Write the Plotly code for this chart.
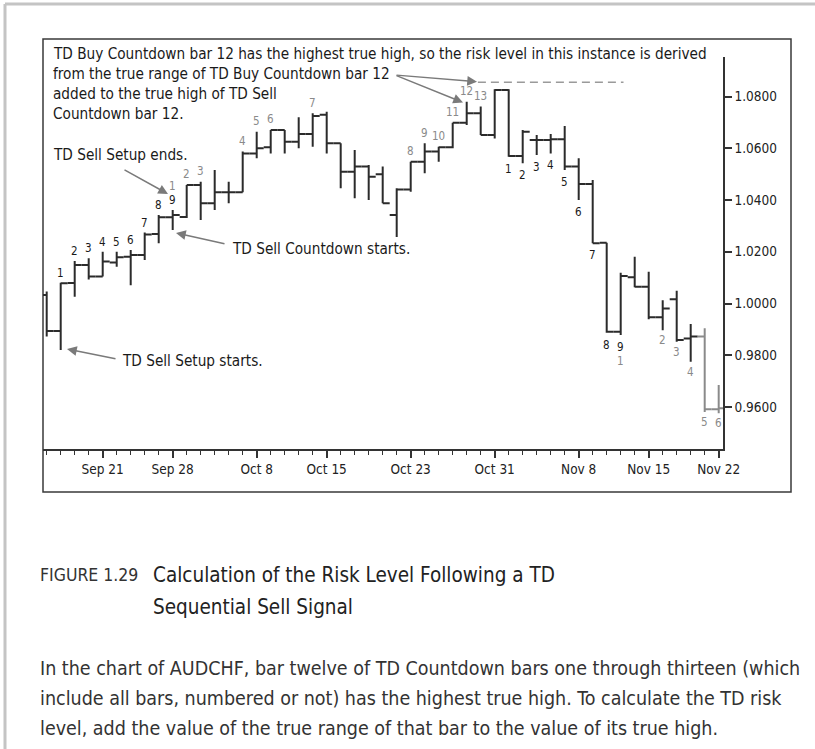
import plotly.graph_objects as go

# ---------------- data ----------------
bar_index = list(range(49))  # trading days from Sep 17 to Nov 22
opens = [1.0033, 0.9894, 1.0079, 1.0149, 1.0104, 1.0158, 1.0181, 1.0187, 1.0269, 1.0333,
         1.0334, 1.0458, 1.0387, 1.0430, 1.0430, 1.0580, 1.0604, 1.0671, 1.0625, 1.0655,
         1.0729, 1.0619, 1.0509, 1.0529, 1.0500, 1.0342, 1.0441, 1.0548, 1.0587, 1.0604,
         1.0699, 1.0735, 1.0651, 1.0825, 1.0570, 1.0632, 1.0632, 1.0635, 1.0529, 1.0462,
         1.0235, 0.9891, 1.0101, 1.0065, 0.9947, 1.0016, 0.9865, 0.9872, 0.9591]
highs = [1.0046, 1.0080, 1.0164, 1.0175, 1.0200, 1.0200, 1.0207, 1.0274, 1.0342, 1.0361,
         1.0458, 1.0471, 1.0516, 1.0471, 1.0587, 1.0664, 1.0671, 1.0671, 1.0720, 1.0735,
         1.0741, 1.0619, 1.0593, 1.0535, 1.0529, 1.0445, 1.0548, 1.0619, 1.0606, 1.0699,
         1.0780, 1.0761, 1.0828, 1.0828, 1.0671, 1.0651, 1.0655, 1.0686, 1.0561, 1.0477,
         1.0235, 1.0119, 1.0181, 1.0123, 1.0013, 1.0049, 0.9921, 0.9904, 0.9685]
lows = [0.9872, 0.9820, 1.0026, 1.0093, 1.0104, 1.0142, 1.0071, 1.0168, 1.0233, 1.0284,
        1.0330, 1.0323, 1.0361, 1.0387, 1.0430, 1.0561, 1.0580, 1.0580, 1.0600, 1.0606,
        1.0580, 1.0445, 1.0407, 1.0400, 1.0387, 1.0257, 1.0432, 1.0503, 1.0548, 1.0600,
        1.0690, 1.0651, 1.0638, 1.0567, 1.0542, 1.0574, 1.0580, 1.0516, 1.0400, 1.0233,
        0.9887, 0.9878, 1.0063, 0.9939, 0.9897, 0.9852, 0.9775, 0.9581, 0.9576]
closes = [0.9894, 1.0078, 1.0149, 1.0104, 1.0162, 1.0179, 1.0187, 1.0267, 1.0333, 1.0342,
          1.0458, 1.0387, 1.0430, 1.0430, 1.0580, 1.0600, 1.0671, 1.0625, 1.0655, 1.0725,
          1.0619, 1.0509, 1.0529, 1.0490, 1.0387, 1.0441, 1.0548, 1.0587, 1.0604, 1.0699,
          1.0735, 1.0651, 1.0825, 1.0570, 1.0664, 1.0632, 1.0635, 1.0529, 1.0462, 1.0233,
          0.9891, 1.0106, 1.0065, 0.9947, 0.9981, 0.9859, 0.9872, 0.9591, 0.9595]
highlight_bars = [47, 48]

tick_bar_index = [4, 9, 15, 20, 26, 32, 38, 43, 48]
tick_labels = ["Sep 21", "Sep 28", "Oct 8", "Oct 15", "Oct 23", "Oct 31", "Nov 8", "Nov 15", "Nov 22"]
price_ticks = [0.96, 0.98, 1.00, 1.02, 1.04, 1.06, 1.08]

sell_setup_bars = [1, 2, 3, 4, 5, 6, 7, 8, 9]
sell_setup_text = ["1", "2", "3", "4", "5", "6", "7", "8", "9"]
sell_cd_bars = [9, 10, 11, 14, 15, 16, 19, 26, 27, 28, 29, 30, 31]
sell_cd_text = ["1", "2", "3", "4", "5", "6", "7", "8", "9", "10", "11", "12", "13"]
buy_setup_bars = [33, 34, 35, 36, 37, 38, 39, 40, 41]
buy_setup_text = ["1", "2", "3", "4", "5", "6", "7", "8", "9"]
buy_cd_bars = [41, 44, 45, 46, 47, 48]
buy_cd_text = ["1", "2", "3", "4", "5", "6"]

risk_level = 1.0855
risk_span = [30.8, 41.2]

note_lines = ["TD Buy Countdown bar 12 has the highest true high, so the risk level in this instance is derived",
              "from the true range of TD Buy Countdown bar 12",
              "added to the true high of TD Sell",
              "Countdown bar 12."]
caption_label = "FIGURE 1.29"
caption_title = ["Calculation of the Risk Level Following a TD", "Sequential Sell Signal"]
caption_body = ["In the chart of AUDCHF, bar twelve of TD Countdown bars one through thirteen (which",
                "include all bars, numbered or not) has the highest true high. To calculate the TD risk",
                "level, add the value of the true range of that bar to the value of its true high."]

# ---------------- layout helpers ----------------
W, H = 815, 749
L, R, T, B = 43, 723, 57, 449
FONT = "DejaVu Sans Condensed, Liberation Sans Narrow, Arial Narrow, sans-serif"
DARK = "#2b2b2b"
GRAY = "#8a8a8a"


def fx(px):
    return (px - L) / (R - L)


def fy(py):
    return (B - py) / (B - T)


main_idx = [i for i in bar_index if i not in highlight_bars]

fig = go.Figure()
for idx, col in ((main_idx, DARK), (highlight_bars, GRAY)):
    fig.add_trace(go.Ohlc(
        x=[bar_index[i] for i in idx],
        open=[opens[i] for i in idx], high=[highs[i] for i in idx],
        low=[lows[i] for i in idx], close=[closes[i] for i in idx],
        increasing=dict(line=dict(color=col, width=2)),
        decreasing=dict(line=dict(color=col, width=2)),
        tickwidth=0.5, hoverinfo="skip", showlegend=False))

fig.add_trace(go.Scatter(x=risk_span, y=[risk_level, risk_level], mode="lines",
                         line=dict(color="#9a9a9a", width=1.5, dash="8px,5px"),
                         hoverinfo="skip", showlegend=False))

ann = []


def label(i, text, above, shift, color):
    ann.append(dict(x=bar_index[i], y=highs[i] if above else lows[i], xref="x", yref="y",
                    text=text, showarrow=False, yshift=shift if above else -shift,
                    font=dict(family=FONT, size=11.5, color=color), xanchor="center", yanchor="middle"))


for i, t in zip(sell_setup_bars, sell_setup_text):
    label(i, t, True, 10, "#1a1a1a")
for i, t in zip(sell_cd_bars, sell_cd_text):
    label(i, t, True, 24 if i in sell_setup_bars else 10.5, "#8a8a8a")
for i, t in zip(buy_setup_bars, buy_setup_text):
    label(i, t, False, 12, "#1a1a1a")
for i, t in zip(buy_cd_bars, buy_cd_text):
    label(i, t, False, 26 if i in buy_setup_bars else 10, "#8a8a8a")


def text(px, py, s, size, color="#1a1a1a"):
    ann.append(dict(x=fx(px), y=fy(py), xref="paper", yref="paper", text=s, showarrow=False,
                    xanchor="left", yanchor="middle", font=dict(family=FONT, size=size, color=color)))


NOTE = 15.2
for k, s in enumerate(note_lines):
    text(51, [53.5, 73.8, 94, 114.5][k], s, NOTE)
text(51, 155, "TD Sell Setup ends.", NOTE)
text(230, 249, "TD Sell Countdown starts.", NOTE)
text(120, 361, "TD Sell Setup starts.", NOTE)

text(38, 575, caption_label, 17.5, "#333333")
text(151, 575, caption_title[0], 20.5, "#222222")
text(151, 607, caption_title[1], 20.5, "#222222")
for k, s in enumerate(caption_body):
    text(38, 668 + 30 * k, s, 19.5, "#333333")


def arrow(hx, hy, tx, ty):
    ann.append(dict(x=fx(hx), y=fy(hy), xref="paper", yref="paper", text="", showarrow=True,
                    ax=tx - hx, ay=ty - hy, arrowcolor="#7a7a7a", arrowwidth=1.5,
                    arrowhead=2, arrowsize=1.3, standoff=0))


arrow(168, 194, 123, 169)
arrow(176, 233, 226, 244)
arrow(67, 349, 117, 359)
arrow(477, 81.7, 395, 75)
arrow(463, 102.5, 395, 75)

shapes = [
    dict(type="rect", xref="paper", yref="paper", x0=fx(43), x1=fx(791), y0=fy(492), y1=fy(39),
         line=dict(color="#3a3a3a", width=1.5), layer="below"),
    dict(type="line", xref="paper", yref="paper", x0=fx(5), x1=fx(815), y0=fy(4), y1=fy(4),
         line=dict(color="#c4c4c4", width=3)),
    dict(type="line", xref="paper", yref="paper", x0=fx(5), x1=fx(5), y0=fy(4), y1=fy(749),
         line=dict(color="#c4c4c4", width=3)),
]

x0 = -(46.7 - L) / 14.0
x1 = x0 + (R - L) / 14.0
yper = 0.02 / 51.75
y1 = 1.08 + (96.5 - T) * yper
y0 = y1 - (B - T) * yper

fig.update_layout(
    width=W, height=H, margin=dict(l=L, r=W - R, t=T, b=H - B),
    paper_bgcolor="white", plot_bgcolor="white",
    annotations=ann, shapes=shapes, showlegend=False,
    font=dict(family=FONT, color="#1a1a1a"),
    xaxis=dict(range=[x0, x1], showline=True, linecolor="#333", linewidth=1.5,
               ticks="outside", ticklen=7, tickwidth=1.5, tickcolor="#333",
               tickmode="array", tickvals=tick_bar_index, ticktext=tick_labels,
               tickfont=dict(family=FONT, size=13.5, color="#222"),
               showgrid=False, zeroline=False, rangeslider=dict(visible=False),
               minor=dict(tickmode="linear", tick0=0, dtick=1, ticks="outside", ticklen=4,
                          tickwidth=1.2, tickcolor="#333", showgrid=False)),
    yaxis=dict(range=[y0, y1], side="right", showline=True, linecolor="#333", linewidth=1.5,
               ticks="outside", ticklen=7, tickwidth=1.5, tickcolor="#333",
               tickmode="array", tickvals=price_ticks, tickformat=".4f",
               tickfont=dict(family=FONT, size=13.5, color="#222"),
               showgrid=False, zeroline=False),
)

fig.write_html("out.html", config={"displayModeBar": False},
               post_script="document.body.style.margin='0';document.body.style.overflow='hidden';")
